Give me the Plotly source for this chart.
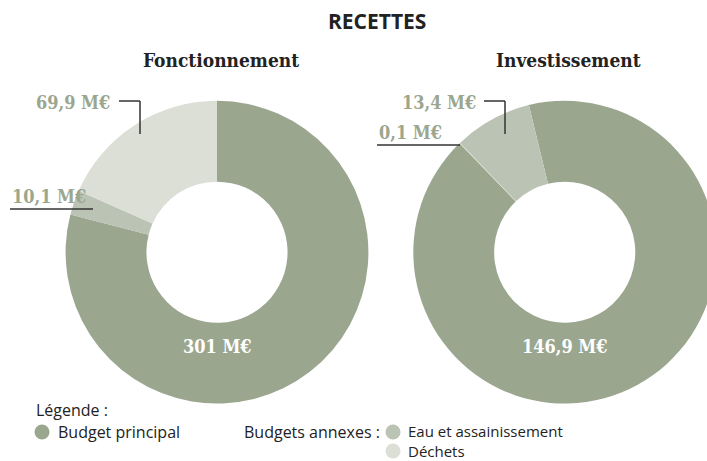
import plotly.graph_objects as go

# ---- data ----
categories = ["Budget principal", "Eau et assainissement", "Déchets"]
fonctionnement = [301, 10.1, 69.9]
investissement = [146.9, 13.4, 0.1]
colors = ["#9BA68F", "#BBC3B4", "#DCDFD6"]

title_text = "RECETTES"
subtitles = ["Fonctionnement", "Investissement"]
legend_title = "Légende :"
annex_title = "Budgets annexes :"

W, H = 720, 461


def px(x):
    return x / W


def py(y):
    return 1 - y / H


def fr(v):
    s = ("%g" % v).replace(".", ",")
    return s + " M€"


SERIF = "DejaVu Serif Condensed, DejaVu Serif, Liberation Serif, serif"
SANS = "Open Sans, Lato, Noto Sans, DejaVu Sans, sans-serif"
DARK = "#222222"
LINE = "#333333"

fig = go.Figure()

# left donut
fig.add_trace(go.Pie(
    labels=categories, values=fonctionnement, sort=False,
    direction="clockwise", rotation=0, hole=0.466,
    marker=dict(colors=colors, line=dict(width=0)),
    textinfo="none", hoverinfo="label+value", showlegend=False,
    domain=dict(x=[px(217 - 151.4), px(217 + 151.4)],
                y=[py(252.2 + 151.4), py(252.2 - 151.4)]),
))
# right donut (partly beyond the right edge, as in the reference)
fig.add_trace(go.Pie(
    labels=categories, values=investissement, sort=False,
    direction="counterclockwise", rotation=-13.7, hole=0.466,
    marker=dict(colors=colors, line=dict(width=0)),
    textinfo="none", hoverinfo="label+value", showlegend=False,
    domain=dict(x=[px(564.7 - 151.4), px(564.7 + 151.4)],
                y=[py(252.2 + 151.4), py(252.2 - 151.4)]),
))

ann = []


def add_text(x, y, text, size, color, family, weight=400, xanchor="center"):
    ann.append(dict(x=px(x), y=py(y), xref="paper", yref="paper", text=text,
                    showarrow=False, xanchor=xanchor, yanchor="middle",
                    align="left",
                    font=dict(size=size, color=color, family=family, weight=weight)))


add_text(377, 21, title_text, 21, DARK, SANS, 700)
add_text(221, 60, subtitles[0], 19, DARK, SERIF, 700)
add_text(568, 60, subtitles[1], 19, DARK, SERIF, 700)

# slice value labels
add_text(34, 102, fr(fonctionnement[2]), 18, colors[0], SERIF, 700, "left")
add_text(10, 196, fr(fonctionnement[1]), 18, colors[0], SERIF, 700, "left")
add_text(217, 346, fr(fonctionnement[0]), 18, "white", SERIF, 700)
add_text(400, 102, fr(investissement[1]), 18, colors[0], SERIF, 700, "left")
add_text(377, 132, fr(investissement[2]), 18, colors[0], SERIF, 700, "left")
add_text(565, 346, fr(investissement[0]), 18, "white", SERIF, 700)

# legend
add_text(34, 410, legend_title, 16, DARK, SANS, 400, "left")
add_text(56, 432, categories[0], 16, DARK, SANS, 400, "left")
add_text(382, 432, annex_title, 16, DARK, SANS, 400, "right")
add_text(406, 440.5, categories[1] + "<br>" + categories[2], 15, DARK, SANS, 400, "left")

shapes = []


def seg(x0, y0, x1, y1):
    shapes.append(dict(type="line", xref="paper", yref="paper",
                       x0=px(x0), y0=py(y0), x1=px(x1), y1=py(y1),
                       line=dict(color=LINE, width=1.5)))


seg(119, 101, 140, 101)
seg(140, 101, 140, 134)
seg(10, 209, 93, 209)
seg(484, 101, 505, 101)
seg(505, 101, 505, 134)
seg(377, 145, 460, 145)


def dot(x, y, c, r=7.5):
    shapes.append(dict(type="circle", xref="paper", yref="paper",
                       x0=px(x - r), x1=px(x + r), y0=py(y + r), y1=py(y - r),
                       fillcolor=c, line=dict(width=0)))


dot(42, 432, colors[0])
dot(393, 432, colors[1])
dot(393, 451, colors[2])

fig.update_layout(
    width=W, height=H, margin=dict(l=0, r=0, t=0, b=0),
    paper_bgcolor="white", plot_bgcolor="white",
    annotations=ann, shapes=shapes,
)

fig.write_html("out.html", config={"displayModeBar": False},
               post_script="document.body.style.margin='0';document.body.style.overflow='hidden';")
